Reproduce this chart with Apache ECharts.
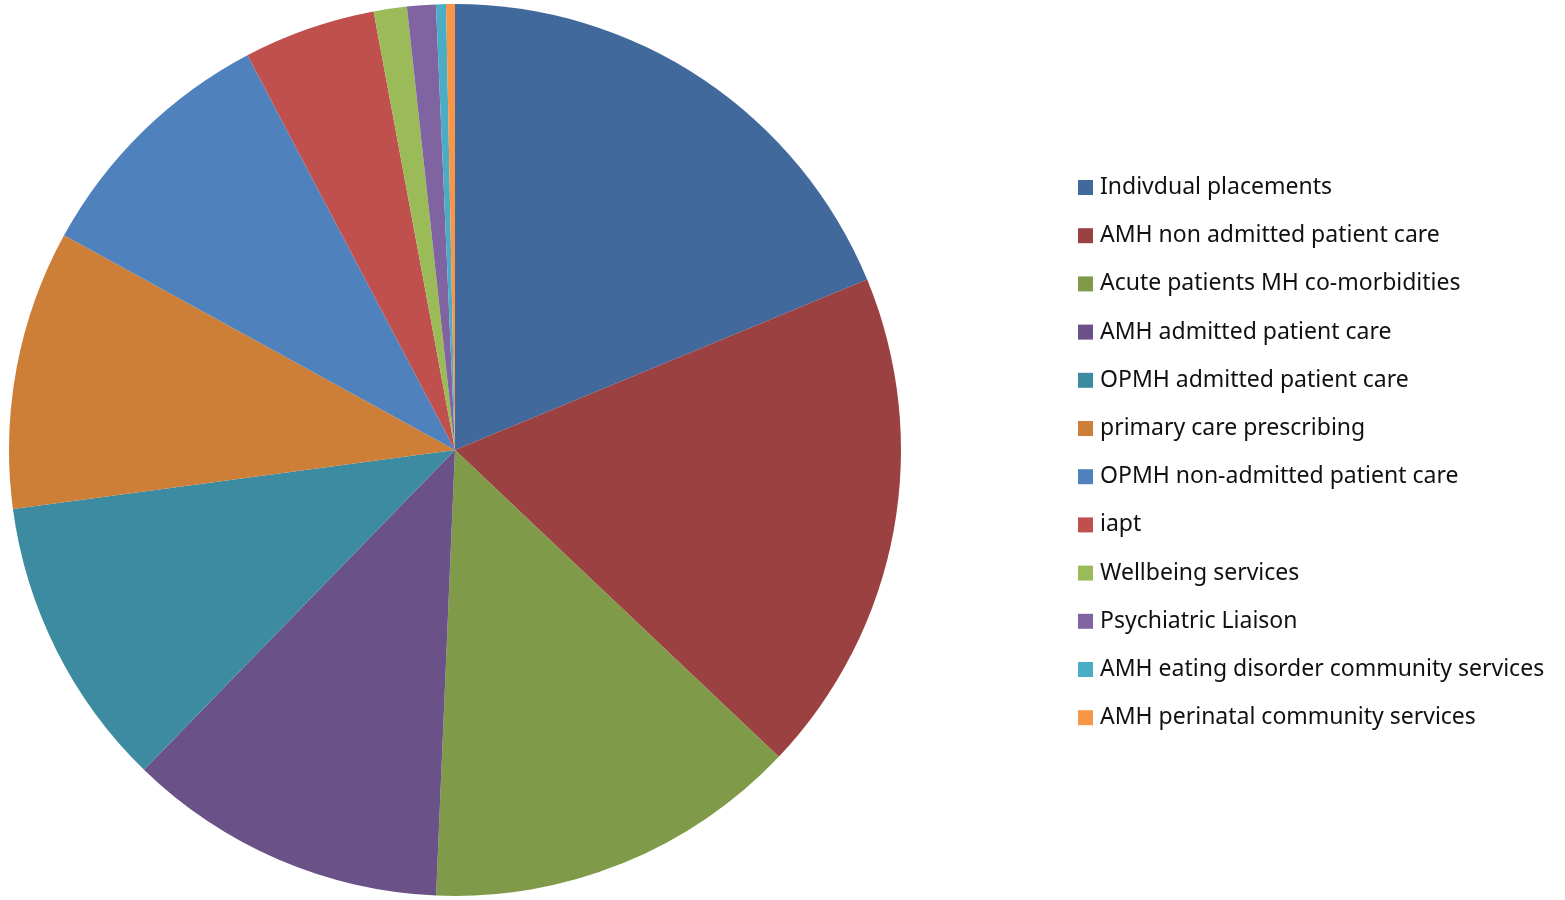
<!DOCTYPE html>
<html><head><meta charset="utf-8">
<script src="https://cdn.jsdelivr.net/npm/echarts@6/dist/echarts.min.js"></script>
<style>html,body{margin:0;padding:0;background:#fff}#c{width:1565px;height:900px}</style>
</head><body><div id="c"></div>
<script>
const categories = ["Indivdual placements","AMH non admitted patient care","Acute patients MH co-morbidities","AMH admitted patient care","OPMH admitted patient care","primary care prescribing","OPMH non-admitted patient care","iapt","Wellbeing services","Psychiatric Liaison","AMH eating disorder community services","AMH perinatal community services"];
const values = [18.75,18.3,13.6,11.6,10.6,10.1,9.3,4.78,1.2,1.04,0.36,0.32];
const colors = ["#41699B","#9C4141","#7F9A48","#6A5187","#3C8BA1","#CD7E37","#4F81BD","#C0504D","#9BBB59","#8064A2","#4BACC6","#F79646"];
const chart = echarts.init(document.getElementById('c'), null, {renderer:'canvas'});
chart.setOption({
  animation:false,
  color: colors,
  legend:{
    orient:'vertical', left:1073, top:171, padding:5,
    itemWidth:15, itemHeight:15, itemGap:25.2,
    icon:'rect',
    textStyle:{fontFamily:'Noto Sans', fontSize:23, lineHeight:23, color:'#111', padding:[0,0,0,2]},
    data: categories
  },
  series:[{
    type:'pie', center:[455,450], radius:[0,446], startAngle:90, clockwise:true,
    label:{show:false}, labelLine:{show:false},
    itemStyle:{borderWidth:0},
    emphasis:{disabled:true},
    data: categories.map((n,i)=>({name:n, value:values[i]}))
  }]
});
</script></body></html>
